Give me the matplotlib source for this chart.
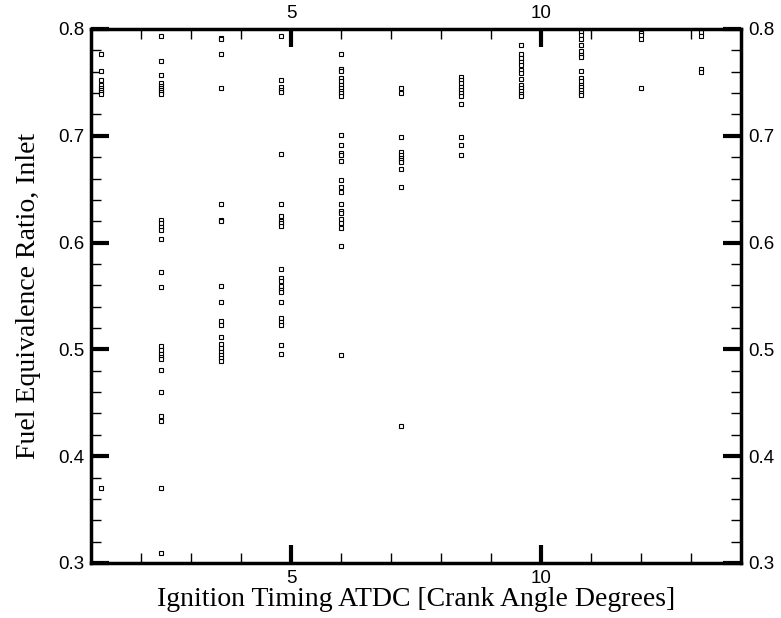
import numpy as np
import matplotlib
matplotlib.use("Agg")
from matplotlib import pyplot as plt
from matplotlib.ticker import MultipleLocator

# ignition timing columns [CAD ATDC]
timing = [1.2, 2.4, 3.6, 4.8, 6.0, 7.2, 8.4, 9.6, 10.8, 12.0, 13.2]

# inlet fuel equivalence ratio measured at each timing
phi_12 = [0.777, 0.761, 0.752, 0.748, 0.745, 0.743, 0.741, 0.739, 0.370]
phi_24 = [0.793, 0.770, 0.757, 0.749, 0.747, 0.745, 0.743, 0.741, 0.739,
          0.621, 0.618, 0.615, 0.612, 0.603, 0.572, 0.558,
          0.503, 0.499, 0.496, 0.493, 0.491, 0.481, 0.460, 0.438, 0.433,
          0.370, 0.309]
phi_36 = [0.792, 0.791, 0.777, 0.745, 0.636, 0.621, 0.620, 0.559, 0.544,
          0.527, 0.523, 0.512, 0.505, 0.501, 0.498, 0.495, 0.492, 0.489]
phi_48 = [0.793, 0.752, 0.746, 0.743, 0.741, 0.683, 0.636, 0.625, 0.620,
          0.618, 0.616, 0.575, 0.567, 0.564, 0.559, 0.556, 0.554, 0.544,
          0.529, 0.526, 0.523, 0.504, 0.496]
phi_60 = [0.777, 0.763, 0.761, 0.754, 0.751, 0.748, 0.745, 0.742, 0.740,
          0.737, 0.701, 0.691, 0.684, 0.682, 0.676, 0.659, 0.652, 0.647,
          0.636, 0.630, 0.628, 0.622, 0.618, 0.614, 0.597, 0.495]
phi_72 = [0.745, 0.740, 0.699, 0.685, 0.682, 0.679, 0.677, 0.675, 0.669,
          0.652, 0.428]
phi_84 = [0.755, 0.752, 0.749, 0.746, 0.743, 0.740, 0.737, 0.730, 0.699,
          0.691, 0.682]
phi_96 = [0.785, 0.777, 0.773, 0.769, 0.766, 0.762, 0.759, 0.753, 0.748,
          0.745, 0.742, 0.739, 0.737]
phi_108 = [0.797, 0.794, 0.791, 0.785, 0.779, 0.776, 0.774, 0.761, 0.754,
           0.751, 0.748, 0.746, 0.743, 0.740, 0.738]
phi_120 = [0.798, 0.796, 0.794, 0.791, 0.745]
phi_132 = [0.797, 0.793, 0.763, 0.760]

phi = [phi_12, phi_24, phi_36, phi_48, phi_60, phi_72, phi_84, phi_96,
       phi_108, phi_120, phi_132]


def main():
    fig = plt.figure(figsize=(7.81, 6.18), dpi=100)
    ax = fig.add_axes([0.1165, 0.089, 0.8323, 0.8641])

    for t, vals in zip(timing, phi):
        ax.plot([t] * len(vals), vals, linestyle="none", marker="s",
                ms=3, mew=0.8, mec="black", mfc="white")

    ax.set_xlim(1, 14)
    ax.set_ylim(0.3, 0.8)
    ax.xaxis.set_major_locator(MultipleLocator(5))
    ax.xaxis.set_minor_locator(MultipleLocator(1))
    ax.yaxis.set_major_locator(MultipleLocator(0.1))
    ax.yaxis.set_minor_locator(MultipleLocator(0.02))
    ax.yaxis.set_major_formatter(lambda v, p: f"{v:.1f}")

    ax.tick_params(which="both", direction="in", top=True, right=True,
                   labeltop=True, labelright=True, labelsize=13.5,
                   colors="black")
    ax.tick_params(which="major", length=13, width=3, pad=5)
    ax.tick_params(which="minor", length=7, width=1)
    for lab in ax.get_xticklabels() + ax.get_yticklabels():
        lab.set_family("Liberation Sans")

    for s in ax.spines.values():
        s.set_linewidth(2.5)

    ax.set_xlabel("Ignition Timing ATDC [Crank Angle Degrees]",
                  family="Liberation Serif", fontsize=20, labelpad=0)
    ax.set_ylabel("Fuel Equivalence Ratio, Inlet",
                  family="Liberation Serif", fontsize=20, labelpad=12)

    plt.savefig("out.png", dpi=100)


if __name__ == "__main__":
    main()
